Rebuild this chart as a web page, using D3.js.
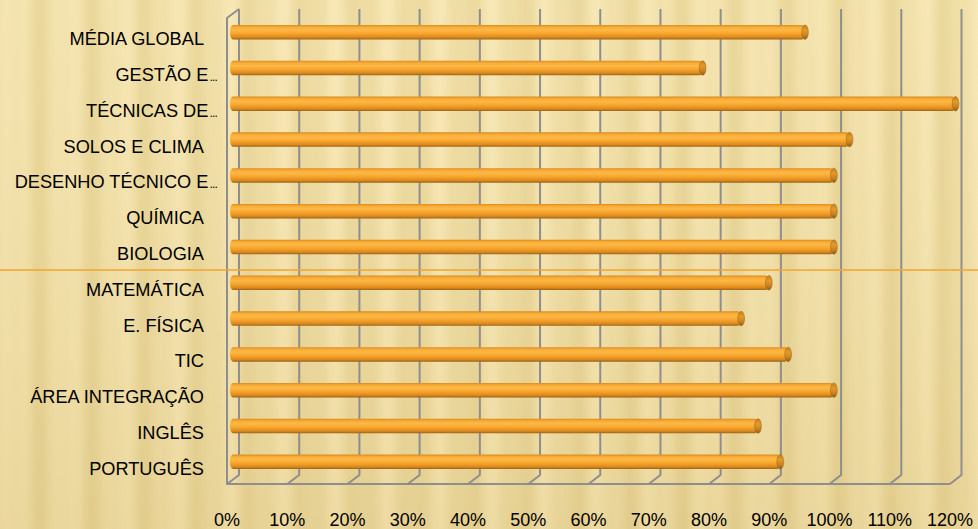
<!DOCTYPE html>
<html><head><meta charset="utf-8">
<script src="https://cdn.jsdelivr.net/npm/d3@7"></script>
<style>html,body{margin:0;padding:0;overflow:hidden;background:#EEDCA2}</style>
</head><body>
<script>
// ---- data ----
const categories = ["MÉDIA GLOBAL","GESTÃO E...","TÉCNICAS DE...","SOLOS E CLIMA","DESENHO TÉCNICO E...","QUÍMICA","BIOLOGIA","MATEMÁTICA","E. FÍSICA","TIC","ÁREA INTEGRAÇÃO","INGLÊS","PORTUGUÊS"];
const values = [0.95, 0.78, 1.20, 1.024, 0.998, 0.998, 0.998, 0.89, 0.844, 0.922, 0.998, 0.872, 0.909];
const tickValues = [0,0.1,0.2,0.3,0.4,0.5,0.6,0.7,0.8,0.9,1.0,1.1,1.2];

const W = 978, H = 529;
const svg = d3.select("body").append("svg").attr("width", W).attr("height", H);
const defs = svg.append("defs");

// background stripes (texture)
const bg = defs.append("linearGradient").attr("id","bgStripes").attr("x1","0").attr("x2","1").attr("y1","0").attr("y2","0");
const light = d3.color("#F8E8B6"), dark = d3.color("#E6D293");
const interp = d3.interpolateRgb(dark, light);
for (let i = 0; i <= 160; i++) {
  const x = i / 160 * W;
  const t = 0.5 + 0.32*Math.sin(x/8.5) + 0.16*Math.sin(x/4.1 + 1.3);
  bg.append("stop").attr("offset", (i/160)).attr("stop-color", interp(Math.max(0, Math.min(1, t))));
}
const shade = defs.append("linearGradient").attr("id","bgShade").attr("x1","0").attr("x2","0").attr("y1","0").attr("y2","1");
shade.append("stop").attr("offset",0).attr("stop-color","#fff3c8").attr("stop-opacity",0.12);
shade.append("stop").attr("offset",1).attr("stop-color","#c9ad62").attr("stop-opacity",0.2);

svg.append("rect").attr("width",W).attr("height",H).attr("fill","url(#bgStripes)");
svg.append("rect").attr("width",W).attr("height",H).attr("fill","url(#bgShade)");

// bar gradient
const bgBar = defs.append("linearGradient").attr("id","barGrad").attr("x1","0").attr("x2","0").attr("y1","0").attr("y2","1");
[[0,"#DB8B1C"],[0.15,"#F8AC38"],[0.35,"#FDB845"],[0.6,"#F7A42C"],[0.85,"#DB891E"],[1,"#9A6216"]]
  .forEach(([o,c]) => bgBar.append("stop").attr("offset",o).attr("stop-color",c));
const capGrad = defs.append("linearGradient").attr("id","capGrad").attr("x1","0").attr("x2","0").attr("y1","0").attr("y2","1");
[[0,"#C47E1C"],[0.35,"#E39A2A"],[0.7,"#C98420"],[1,"#8E5A14"]]
  .forEach(([o,c]) => capGrad.append("stop").attr("offset",o).attr("stop-color",c));

// ---- scales ----
const xBack  = d3.scaleLinear().domain([0,1.2]).range([239,961.5]);
const xFront = d3.scaleLinear().domain([0,1.2]).range([227,950]);
const xMid   = d3.scaleLinear().domain([0,1.2]).range([233,955.5]);
const y = d3.scaleBand().domain(categories).range([14.3,479.7]).padding(0);
const backTop = 9, backBottom = 475, frontTop = 18, frontBottom = 484;

// ---- grid / walls ----
const grid = svg.append("g").attr("fill","none").attr("stroke","#8E8E8E").attr("stroke-width",2).attr("stroke-linejoin","round");
grid.selectAll("path.g").data(tickValues).join("path").attr("class","g")
  .attr("d", d => `M${xBack(d)},${backTop}L${xBack(d)},${backBottom}L${xFront(d)},${frontBottom}`);
grid.append("path").attr("d", `M${xBack(0)},${backTop}L${xFront(0)},${frontTop}L${xFront(0)},${frontBottom}L${xFront(1.2)},${frontBottom}`);

// ---- bars ----
const bh = 14.5;
const bars = svg.append("g");
categories.forEach((c, i) => {
  const cy = y(c) + y.bandwidth()/2;
  const x0 = xMid(0), x1 = xMid(values[i]);
  bars.append("rect").attr("x", x0-3).attr("y", cy-bh/2).attr("width", x1-x0+3).attr("height", bh)
    .attr("rx", 3).attr("ry", 7).attr("fill","url(#barGrad)");
  bars.append("ellipse").attr("cx", x1).attr("cy", cy).attr("rx", 3.4).attr("ry", bh/2)
    .attr("fill","url(#capGrad)").attr("stroke","#9A6216").attr("stroke-width",0.5);
});

// ---- category labels ----
const labels = svg.append("g").attr("font-family","'Liberation Sans', Arial, sans-serif").attr("font-size","18.2px").attr("fill","#000");
categories.forEach(c => {
  const cy = y(c) + y.bandwidth()/2;
  const t = labels.append("text").attr("x", 204).attr("y", cy + 13).attr("text-anchor","end");
  if (c.endsWith("...")) {
    t.append("tspan").text(c.slice(0,-3));
    t.append("tspan").attr("font-size","12px").attr("letter-spacing","-0.8px").attr("dx","1").text("...");
    t.attr("x", 217);
  } else {
    t.text(c);
  }
});

// ---- x tick labels ----
svg.append("g").attr("font-family","'Liberation Sans', Arial, sans-serif").attr("font-size","18px").attr("fill","#000")
  .selectAll("text").data(tickValues).join("text")
  .attr("x", d => xFront(d)).attr("y", 526).attr("text-anchor","middle")
  .text(d => d3.format(".0%")(d));

// ---- slide decoration ----
svg.append("line").attr("x1",0).attr("x2",W).attr("y1",270).attr("y2",270).attr("stroke","#F4A32F").attr("stroke-width",1.6);
</script>
</body></html>
